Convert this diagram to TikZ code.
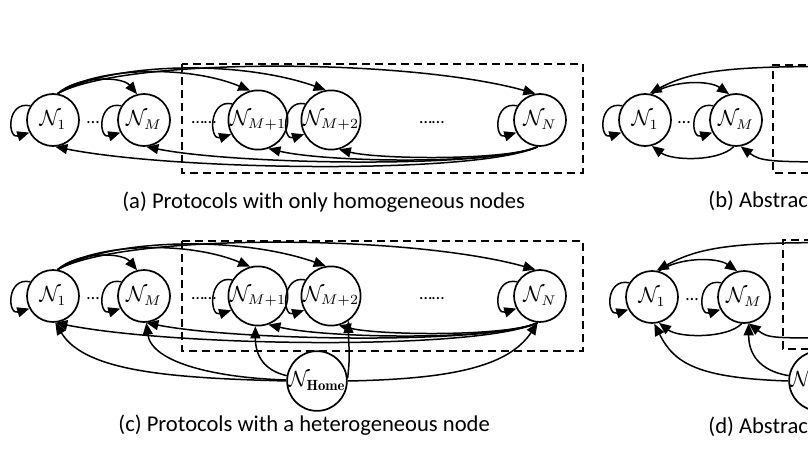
\documentclass[tikz,border=0pt]{standalone}
\usepackage{fontspec}
\newfontfamily\capfont{Carlito}
\usetikzlibrary{arrows.meta}
\newcommand\sloop[1]{\draw[arr] (#1.148) .. controls +(-24,-5) and +(-22,7) .. (#1.208);}
\begin{document}
\begin{tikzpicture}[x=0.5pt,y=-0.5pt,
  st/.style={circle,draw,line width=0.85pt,minimum size=26pt,inner sep=0pt,font=\fontsize{10.5}{11}\selectfont},
  arr/.style={line width=0.75pt,-{Triangle[length=6pt,width=5pt]}},
  box/.style={draw,line width=0.8pt,dash pattern=on 4pt off 2.5pt},
  dots/.style={font=\capfont\fontsize{9}{10}\selectfont,inner sep=0pt,anchor=base},
  captxt/.style={font=\capfont\fontsize{11.3}{13}\selectfont,inner sep=0pt,anchor=base west}]
\useasboundingbox (0,0) rectangle (808,455);
\clip (0,0) rectangle (808,455);
% ---------------- (a)
\draw[box] (182,64) rectangle (583,173);
\node[st] (a1) at (53,120) {$\mathcal{N}_1$};
\node[st] (aM) at (144,120) {$\mathcal{N}_M$};
\node[st] (aM1) at (258,120) {$\mathcal{N}_{M+1}$};
\node[st] (aM2) at (331,120) {$\mathcal{N}_{M+2}$};
\node[st] (aN) at (540,120) {$\mathcal{N}_N$};
\node[dots] (ad1) at (93,123) {…};
\node[dots] (ad2) at (204,123) {……};
\node[dots] (ad3) at (432,123) {……};
\sloop{a1}\sloop{aM}\sloop{aM1}\sloop{aM2}\sloop{aN}
\draw[arr] (a1.80) .. controls +(20,-18) and +(-15,-18) .. (aM.105);
\draw[arr] (a1.80) .. controls +(40,-28) and +(-60,-25) .. (aM1.105);
\draw[arr] (a1.80) .. controls +(55,-32) and +(-85,-30) .. (aM2.100);
\draw[arr] (a1.80) .. controls +(65,-36) and +(-130,-36) .. (aN.100);
\draw[arr] (aN.265) .. controls +(-30,14) and +(40,10) .. (aM2.-75);
\draw[arr] (aN.265) .. controls +(-40,18) and +(60,14) .. (aM1.-70);
\draw[arr] (aN.265) .. controls +(-50,22) and +(90,18) .. (aM.-85);
\draw[arr] (aN.265) .. controls +(-60,28) and +(120,24) .. (a1.-85);
\node[captxt] (capa) at (122,208) {(a) Protocols with only homogeneous nodes};
% ---------------- (b)
\draw[box] (900,173) -- (773,173) -- (773,65) -- (900,65);
\node[st] (b1) at (645,120) {$\mathcal{N}_1$};
\node[st] (bM) at (736,120) {$\mathcal{N}_M$};
\node[dots] (bd1) at (684,123) {…};
\sloop{b1}\sloop{bM}
\coordinate (bX1) at (850,67);
\coordinate (bX2) at (850,162);
\draw[arr] (b1.75) .. controls +(20,-14) and +(-20,-14) .. (bM.105);
\draw[arr] (bX1) .. controls +(-120,-2) and +(40,-22) .. (b1.80);
\draw[arr] (bM.-95) .. controls +(-15,15) and +(20,15) .. (b1.-75);
\draw[arr] (bX2) .. controls +(-80,0) and +(20,15) .. (bM.-80);
\node[captxt] (capb) at (708,207) {(b) Abstract};
% ---------------- (c)
\draw[box] (182,241) rectangle (583,351);
\node[st] (c1) at (53,296) {$\mathcal{N}_1$};
\node[st] (cM) at (144,296) {$\mathcal{N}_M$};
\node[st] (cM1) at (258,296) {$\mathcal{N}_{M+1}$};
\node[st] (cM2) at (331,296) {$\mathcal{N}_{M+2}$};
\node[st] (cN) at (540,296) {$\mathcal{N}_N$};
\node[st] (cH) at (317,381) {$\mathcal{N}_{\mathbf{Home}}$};
\node[dots] (cd1) at (93,299) {…};
\node[dots] (cd2) at (204,299) {……};
\node[dots] (cd3) at (432,299) {……};
\sloop{c1}\sloop{cM}\sloop{cM1}\sloop{cM2}\sloop{cN}
\draw[arr] (c1.80) .. controls +(20,-18) and +(-15,-18) .. (cM.105);
\draw[arr] (c1.80) .. controls +(40,-28) and +(-60,-25) .. (cM1.105);
\draw[arr] (c1.80) .. controls +(55,-32) and +(-85,-30) .. (cM2.100);
\draw[arr] (c1.80) .. controls +(65,-36) and +(-130,-36) .. (cN.100);
\draw[arr] (cN.265) .. controls +(-30,14) and +(40,10) .. (cM2.-75);
\draw[arr] (cN.265) .. controls +(-40,18) and +(60,14) .. (cM1.-70);
\draw[arr] (cN.265) .. controls +(-50,22) and +(90,18) .. (cM.-85);
\draw[arr] (cN.265) .. controls +(-60,28) and +(120,24) .. (c1.-85);
\draw[arr] (cH.180) .. controls +(-110,-3) and +(30,50) .. (c1.-85);
\draw[arr] (cH.178) .. controls +(-70,-2) and +(5,40) .. (cM.-85);
\draw[arr] (cH.170) .. controls +(-22,-5) and +(0,30) .. (cM1.-95);
\draw[arr] (cH.5) .. controls +(3,-25) and +(0,25) .. (cM2.-55);
\draw[arr] (cH.0) .. controls +(100,-2) and +(-30,45) .. (cN.-95);
\node[captxt] (capc) at (118,431) {(c) Protocols with a heterogeneous node};
% ---------------- (d)
\draw[box] (900,349) -- (783,349) -- (783,240) -- (900,240);
\node[st] (d1) at (652,297) {$\mathcal{N}_1$};
\node[st] (dM) at (744,297) {$\mathcal{N}_M$};
\node[st] (dH) at (819,381) {$\mathcal{N}_{\mathbf{Home}}$};
\node[dots] (dd1) at (692,300) {…};
\sloop{d1}\sloop{dM}
\coordinate (dX1) at (850,243);
\coordinate (dX2) at (850,338);
\draw[arr] (d1.75) .. controls +(20,-14) and +(-20,-14) .. (dM.105);
\draw[arr] (dX1) .. controls +(-120,-2) and +(40,-22) .. (d1.80);
\draw[arr] (dM.-95) .. controls +(-15,15) and +(20,15) .. (d1.-75);
\draw[arr] (dX2) .. controls +(-80,0) and +(20,15) .. (dM.-80);
\draw[arr] (dH.180) .. controls +(-90,-3) and +(20,40) .. (d1.-85);
\draw[arr] (dH.170) .. controls +(-30,-5) and +(0,30) .. (dM.-80);
\node[captxt] (capd) at (708,433) {(d) Abstract};
\end{tikzpicture}
\end{document}
